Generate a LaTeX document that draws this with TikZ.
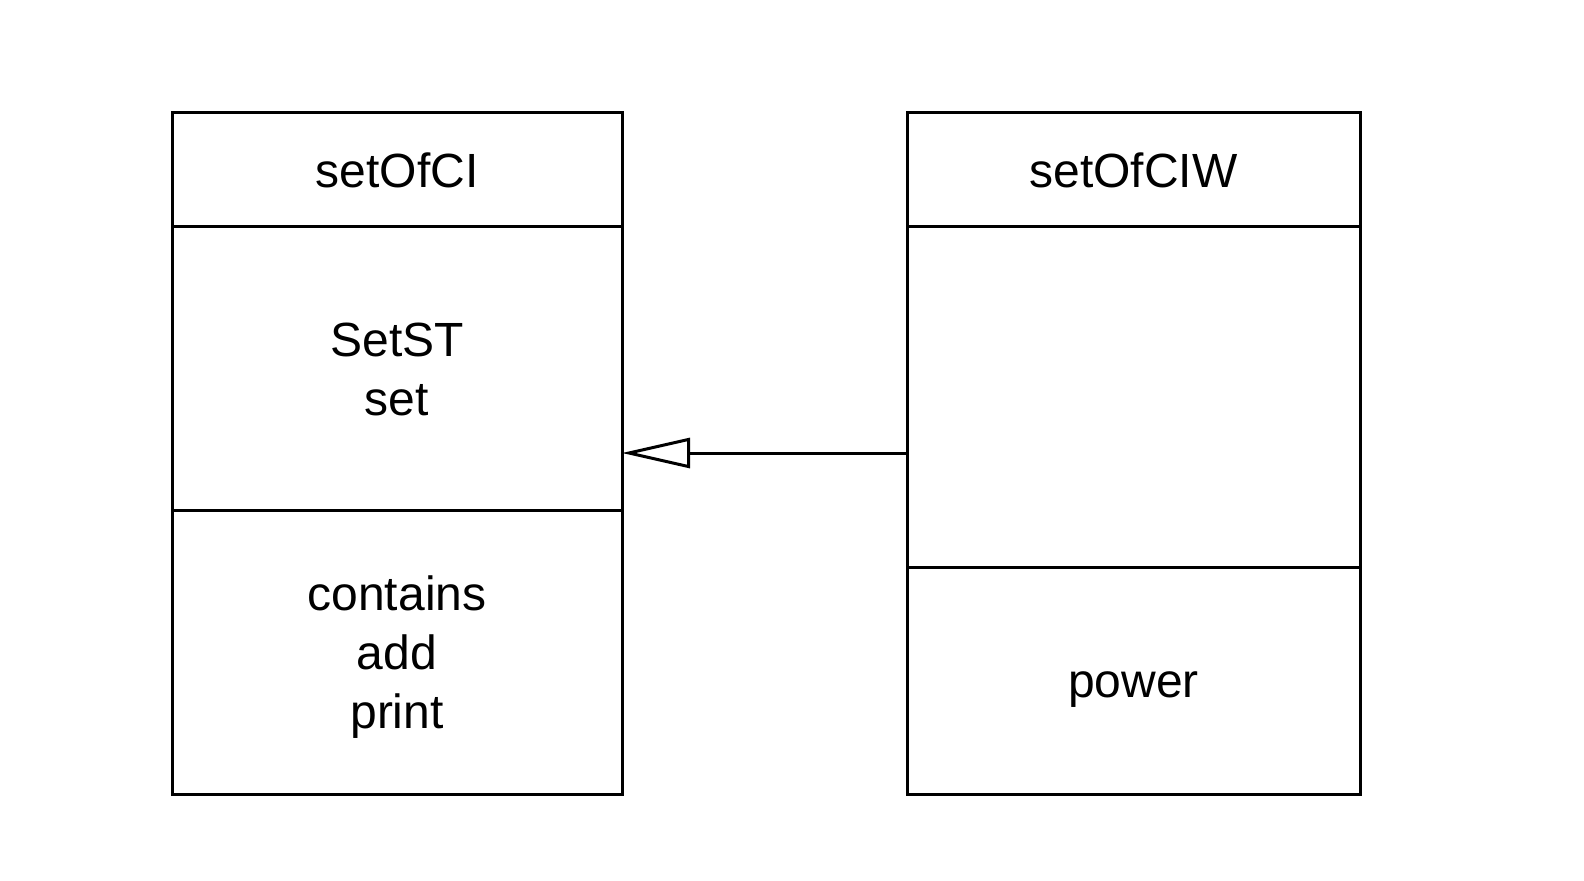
\documentclass[tikz,border=0pt]{standalone}
\usepackage{fontspec}
\setmainfont{Liberation Sans}
\usetikzlibrary{arrows.meta,positioning}

\begin{document}
\begin{tikzpicture}[x=0.5pt, y=0.5pt,
    every node/.style={font=\fontsize{24pt}{29.5pt}\selectfont},
    compart/.style={draw, line width=1.5pt, outer sep=0pt, inner sep=0pt, align=center},
    oneline/.style={text height=17.2pt, text depth=0pt},
    twolines/.style={text height=46.7pt, text depth=0pt},
    threelines/.style={text height=76.2pt, text depth=0pt},
    inherit/.style={line width=1.5pt, -{Triangle[open, length=34pt, width=15pt, fill=white]}}]
    \useasboundingbox (0,0) rectangle (1584,880);

    % --- setOfCI ---
    \node[compart, oneline, minimum width=225pt, minimum height=57pt, anchor=north] (ciName) at (397,767) {setOfCI};
    \node[compart, twolines, minimum width=225pt, minimum height=141.5pt, below=0pt of ciName] (ciAttr) {SetST\\set};
    \node[compart, threelines, minimum width=225pt, minimum height=142pt, below=0pt of ciAttr] (ciOps) {contains\\add\\print};

    % --- setOfCIW ---
    \node[compart, oneline, minimum width=226.5pt, minimum height=57pt, anchor=north] (ciwName) at (1133.5,767) {setOfCIW};
    \node[compart, minimum width=226.5pt, minimum height=170pt, below=0pt of ciwName] (ciwAttr) {};
    \node[compart, oneline, minimum width=226.5pt, minimum height=113.5pt, below=0pt of ciwAttr] (ciwOps) {power};

    % Generalization
    \draw[inherit] ([yshift=-28pt]ciwAttr.west) -- ([yshift=-28pt]ciwAttr.west -| ciAttr.east);

\end{tikzpicture}
\end{document}
